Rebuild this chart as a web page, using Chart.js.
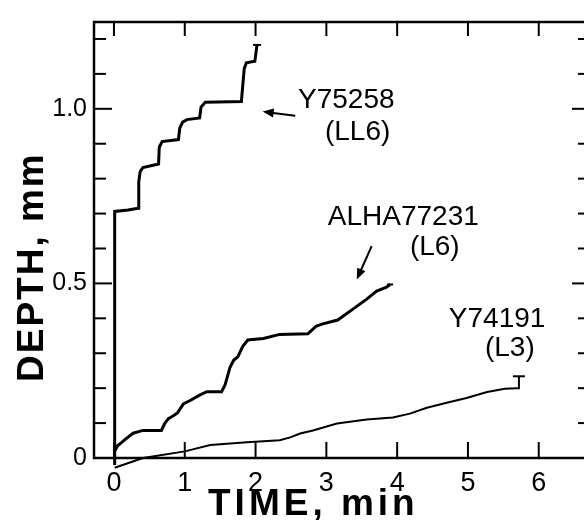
<!DOCTYPE html>
<html>
<head>
<meta charset="utf-8">
<script src="https://cdn.jsdelivr.net/npm/chart.js@4.4.1/dist/chart.umd.min.js"></script>
<style>
	html, body { margin: 0; padding: 0; background: #fff; overflow: hidden; }
	#wrap { width: 600px; height: 520px; }
</style>
</head>
<body>
<div id="wrap"><canvas id="depthChart" width="600" height="520"></canvas></div>
<script>
// Y75258 (LL6)
const y75258Time = [0.01, 0.01, 0.20, 0.34, 0.35, 0.37, 0.41, 0.63, 0.64, 0.68, 0.91, 0.93, 0.97, 1.03, 1.21, 1.23, 1.29, 1.80, 1.84, 1.87, 1.99, 2.02];
const y75258Depth = [-0.02, 0.706, 0.710, 0.715, 0.79, 0.82, 0.832, 0.842, 0.89, 0.906, 0.912, 0.945, 0.962, 0.969, 0.974, 1.005, 1.019, 1.021, 1.115, 1.132, 1.136, 1.183];

// ALHA77231 (L6)
const alhaTime = [0.01, 0.05, 0.11, 0.15, 0.27, 0.41, 0.67, 0.72, 0.77, 0.84, 0.90, 0.98, 1.07, 1.21, 1.31, 1.52, 1.57, 1.64, 1.69, 1.75, 1.82, 1.89, 2.11, 2.34, 2.74, 2.86, 2.95, 3.16, 3.38, 3.57, 3.71, 3.85, 3.90];
const alhaDepth = [0.02, 0.035, 0.045, 0.052, 0.071, 0.079, 0.079, 0.10, 0.113, 0.121, 0.13, 0.155, 0.164, 0.18, 0.19, 0.19, 0.21, 0.26, 0.28, 0.29, 0.32, 0.338, 0.342, 0.354, 0.356, 0.378, 0.384, 0.395, 0.427, 0.455, 0.478, 0.489, 0.497];

// Y74191 (L3)
const y74191Time = [0.01, 0.41, 1.00, 1.36, 1.88, 2.34, 2.49, 2.63, 2.81, 3.15, 3.57, 3.94, 4.18, 4.42, 4.70, 4.98, 5.27, 5.52, 5.69, 5.72, 5.72];
const y74191Depth = [-0.028, 0.0, 0.019, 0.037, 0.045, 0.051, 0.059, 0.07, 0.079, 0.099, 0.11, 0.116, 0.127, 0.144, 0.158, 0.172, 0.189, 0.198, 0.2, 0.2, 0.234];

const xTickValues = [0, 1, 2, 3, 4, 5, 6];
const yTickValues = [0, 0.5, 1.0];
const yTickLabels = ['0', '0.5', '1.0'];

const labelTexts = ['Y75258', '(LL6)', 'ALHA77231', '(L6)', 'Y74191', '(L3)'];
const labelTime = [2.60, 2.98, 3.02, 4.18, 4.73, 5.24];
const labelDepth = [1.003, 0.912, 0.667, 0.582, 0.376, 0.291];

// arrows: tail -> tip, in data units
const arrowFrom = [[2.56, 0.980], [3.64, 0.607]];
const arrowTo = [[2.10, 0.992], [3.43, 0.511]];

const FONT = '"Liberation Sans", Arial, sans-serif';

function toPoints(times, depths) {
	return times.map((t, i) => ({ x: t, y: depths[i] }));
}

function endCap(len) {
	return (ctx) => (ctx.dataIndex === ctx.dataset.data.length - 1 ? len : 0);
}

function seg(ctx, x1, y1, x2, y2) {
	ctx.beginPath();
	ctx.moveTo(x1, y1);
	ctx.lineTo(x2, y2);
	ctx.stroke();
}

const frameAndNotes = {
	id: 'frameAndNotes',
	afterDraw(chart) {
		const { ctx, chartArea: a, scales: { x, y } } = chart;
		ctx.save();
		ctx.strokeStyle = '#000';
		ctx.fillStyle = '#000';
		ctx.lineCap = 'butt';

		// frame
		ctx.lineWidth = 2.5;
		ctx.strokeRect(a.left, a.top, a.right - a.left, a.bottom - a.top);

		// inward ticks
		ctx.lineWidth = 2;
		xTickValues.forEach((v) => {
			const px = x.getPixelForValue(v);
			seg(ctx, px, a.top, px, a.top + 14);
			seg(ctx, px, a.bottom, px, a.bottom - 16);
		});
		for (let i = 0; i <= 12; i++) {
			const py = y.getPixelForValue(i / 10);
			const len = i % 5 === 0 ? 18 : 12;
			seg(ctx, a.left, py, a.left + len, py);
			seg(ctx, a.right, py, a.right - len, py);
		}

		// curve labels
		ctx.font = '28px ' + FONT;
		ctx.textAlign = 'left';
		ctx.textBaseline = 'alphabetic';
		labelTexts.forEach((txt, i) => {
			ctx.fillText(txt, x.getPixelForValue(labelTime[i]), y.getPixelForValue(labelDepth[i]));
		});

		// arrows
		ctx.lineWidth = 2;
		arrowFrom.forEach((from, i) => {
			const x1 = x.getPixelForValue(from[0]);
			const y1 = y.getPixelForValue(from[1]);
			const x2 = x.getPixelForValue(arrowTo[i][0]);
			const y2 = y.getPixelForValue(arrowTo[i][1]);
			const ang = Math.atan2(y2 - y1, x2 - x1);
			const hl = 11;
			const hw = 4.5;
			seg(ctx, x1, y1, x2 - Math.cos(ang) * hl * 0.6, y2 - Math.sin(ang) * hl * 0.6);
			ctx.beginPath();
			ctx.moveTo(x2, y2);
			ctx.lineTo(x2 - Math.cos(ang) * hl - Math.sin(ang) * hw, y2 - Math.sin(ang) * hl + Math.cos(ang) * hw);
			ctx.lineTo(x2 - Math.cos(ang) * hl + Math.sin(ang) * hw, y2 - Math.sin(ang) * hl - Math.cos(ang) * hw);
			ctx.closePath();
			ctx.fill();
		});

		// axis titles
		ctx.font = 'bold 37px ' + FONT;
		ctx.letterSpacing = '4px';
		ctx.fillText('TIME, min', 208, 515);
		ctx.letterSpacing = '2px';
		ctx.translate(43, 382);
		ctx.rotate(-Math.PI / 2);
		ctx.fillText('DEPTH, mm', 0, 0);
		ctx.restore();
	},
};

function lineSet(label, times, depths, width, cap) {
	return {
		label: label,
		data: toPoints(times, depths),
		showLine: true,
		borderColor: '#000',
		backgroundColor: '#000',
		borderWidth: width,
		tension: 0,
		clip: false,
		pointStyle: 'line',
		pointRadius: endCap(cap),
		pointHoverRadius: endCap(cap),
		pointBorderColor: '#000',
		pointBorderWidth: 2,
	};
}

const ctx = document.getElementById('depthChart').getContext('2d');
const depthChart = new Chart(ctx, {
	type: 'scatter',
	data: {
		datasets: [
			lineSet('Y75258 (LL6)', y75258Time, y75258Depth, 3, 4),
			lineSet('ALHA77231 (L6)', alhaTime, alhaDepth, 3, 3),
			lineSet('Y74191 (L3)', y74191Time, y74191Depth, 2, 6),
		],
	},
	options: {
		responsive: false,
		animation: false,
		devicePixelRatio: 1,
		layout: { padding: { left: 0, right: 10, top: 16, bottom: 0 } },
		plugins: {
			legend: { display: false },
			tooltip: { enabled: false },
		},
		scales: {
			x: {
				type: 'linear',
				min: -0.282,
				max: 6.724,
				grid: { display: false, drawTicks: false },
				border: { display: false },
				afterBuildTicks: (s) => { s.ticks = xTickValues.map((v) => ({ value: v })); },
				afterFit: (s) => { s.height = 62; },
				ticks: {
					color: '#000',
					padding: 9,
					maxRotation: 0,
					font: { family: FONT, size: 27 },
					callback: (v) => String(v),
				},
			},
			y: {
				type: 'linear',
				min: 0,
				max: 1.2486,
				grid: { display: false, drawTicks: false },
				border: { display: false },
				afterBuildTicks: (s) => { s.ticks = yTickValues.map((v) => ({ value: v })); },
				afterFit: (s) => { s.width = 94; },
				ticks: {
					color: '#000',
					padding: 7,
					font: { family: FONT, size: 25 },
					callback: (v) => yTickLabels[yTickValues.indexOf(v)],
				},
			},
		},
	},
	plugins: [frameAndNotes],
});
</script>
</body>
</html>
